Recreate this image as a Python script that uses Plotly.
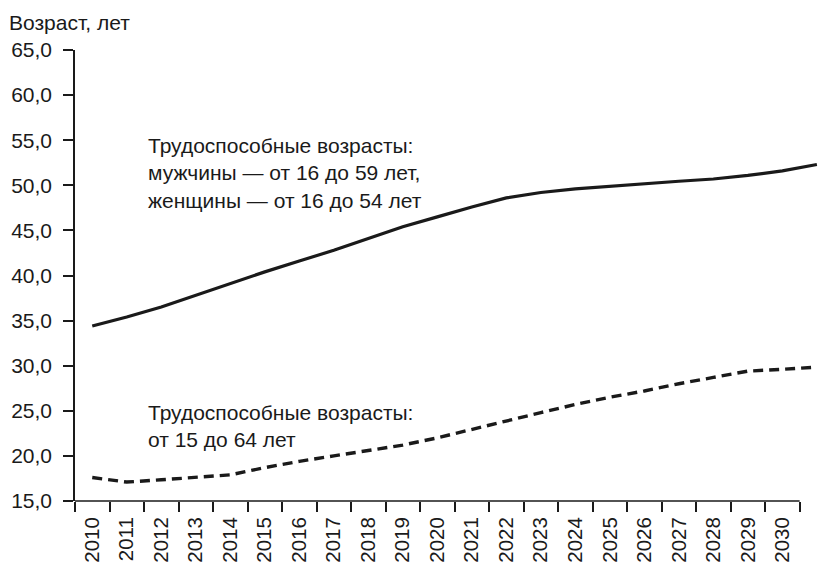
import plotly.graph_objects as go

# ---- data ----
years = list(range(2010, 2032))
working_age_m59_f54 = [34.4, 35.4, 36.5, 37.8, 39.1, 40.4, 41.6, 42.8, 44.1, 45.4, 46.5,
                       47.6, 48.6, 49.2, 49.6, 49.9, 50.2, 50.45, 50.7, 51.1, 51.6, 52.3]
working_age_15_64 = [17.6, 17.1, 17.35, 17.6, 17.9, 18.7, 19.4, 20.0, 20.6, 21.2, 22.0,
                     22.95, 23.9, 24.8, 25.7, 26.5, 27.2, 28.0, 28.7, 29.4, 29.6, 29.85]
label_years = list(range(2010, 2031))
x_tick_labels = [str(y) for y in label_years]
y_tick_values = [15, 20, 25, 30, 35, 40, 45, 50, 55, 60, 65]
y_tick_labels = ["15,0", "20,0", "25,0", "30,0", "35,0", "40,0", "45,0", "50,0", "55,0", "60,0", "65,0"]
y_title = "Возраст, лет"
label_a = "Трудоспособные возрасты:<br>мужчины — от 16 до 59 лет,<br>женщины — от 16 до 54 лет"
label_b = "Трудоспособные возрасты:<br>от 15 до 64 лет"

FONT = "Liberation Sans, Arial, sans-serif"
INK = "#1a1a1a"
FS = 21
X_MIN, X_MAX = 2009.5, 2031.38
AXIS_END = label_years[-1] + 0.5
boundaries = [y - 0.5 for y in label_years] + [AXIS_END]

fig = go.Figure()
fig.add_trace(go.Scatter(x=years, y=working_age_m59_f54, mode="lines",
                         line=dict(color=INK, width=3.2), hoverinfo="skip", showlegend=False))
fig.add_trace(go.Scatter(x=years, y=working_age_15_64, mode="lines",
                         line=dict(color=INK, width=3.4, dash="10px,6px"),
                         hoverinfo="skip", showlegend=False))

fig.update_layout(
    width=833, height=565,
    margin=dict(l=75, r=3, t=50, b=64),
    paper_bgcolor="white", plot_bgcolor="white",
    font=dict(family=FONT, size=FS, color=INK),
    xaxis=dict(range=[X_MIN, X_MAX], tickmode="array", tickvals=label_years, ticktext=x_tick_labels,
               tickangle=-90, ticks="", showline=False, showgrid=False, zeroline=False,
               ticklabelstandoff=11, automargin=False,
               tickfont=dict(size=20.5, family=FONT, color=INK)),
    xaxis2=dict(range=[X_MIN, X_MAX], overlaying="x", anchor="y", side="bottom",
                tickmode="array", tickvals=boundaries, ticks="outside", ticklen=10,
                tickwidth=1.5, tickcolor=INK, showticklabels=False, showline=False,
                showgrid=False, zeroline=False),
    yaxis=dict(range=[15, 65], tickmode="array", tickvals=y_tick_values, ticktext=y_tick_labels,
               ticks="outside", ticklen=10, tickwidth=1.5, tickcolor=INK,
               showline=True, linewidth=1.5, linecolor=INK, showgrid=False, zeroline=False,
               ticklabelstandoff=7, automargin=False,
               tickfont=dict(size=FS, family=FONT, color=INK)),
)
# invisible trace so the boundary-tick axis is drawn
fig.add_trace(go.Scatter(x=[X_MIN], y=[15], xaxis="x2", mode="markers",
                         marker=dict(opacity=0), hoverinfo="skip", showlegend=False))

# x axis line ending at the last category boundary
fig.add_shape(type="line", xref="paper", yref="paper",
              x0=0, x1=(AXIS_END - X_MIN) / (X_MAX - X_MIN), y0=0, y1=0,
              line=dict(color=INK, width=1.5))

fig.add_annotation(text=y_title, xref="paper", yref="paper", x=0, y=1,
                   xanchor="left", yanchor="bottom", xshift=-68, yshift=14,
                   showarrow=False, font=dict(size=FS, family=FONT, color=INK))
fig.add_annotation(text=label_a, xref="x", yref="y", x=2011.55, y=51.4,
                   xanchor="left", yanchor="middle", align="left",
                   showarrow=False, font=dict(size=FS, family=FONT, color=INK))
fig.add_annotation(text=label_b, xref="x", yref="y", x=2011.55, y=23.26,
                   xanchor="left", yanchor="middle", align="left",
                   showarrow=False, font=dict(size=FS, family=FONT, color=INK))

fig.write_html("out.html", config={"displayModeBar": False},
               post_script="document.body.style.margin='0';")
